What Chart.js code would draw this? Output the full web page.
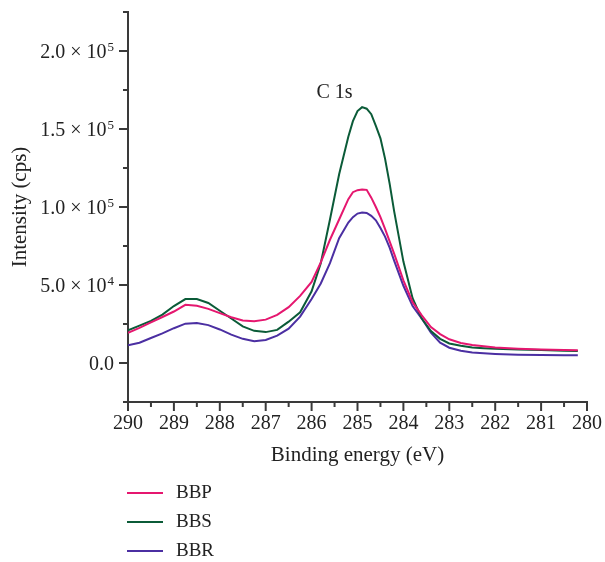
<!DOCTYPE html>
<html>
<head>
<meta charset="utf-8">
<title>C 1s</title>
<script src="https://cdn.jsdelivr.net/npm/chart.js@4/dist/chart.umd.min.js"></script>
<style>
  html, body { margin: 0; padding: 0; background: #fff; }
  #wrap { width: 605px; height: 562px; position: relative; }
</style>
</head>
<body>
<div id="wrap"><canvas id="xps"></canvas></div>
<script>
// binding energies (eV) and intensities (cps) for the C 1s region
const energies = [290, 289.75, 289.5, 289.25, 289, 288.75, 288.5, 288.25, 288, 287.75, 287.5, 287.25, 287,
  286.75, 286.5, 286.25, 286, 285.8, 285.6, 285.4, 285.2, 285.1, 285.0, 284.9, 284.8, 284.7, 284.6, 284.5,
  284.4, 284.3, 284.2, 284.1, 284.0, 283.8, 283.6, 283.4, 283.2, 283.0, 282.75, 282.5, 282.25, 282, 281.5,
  281, 280.5, 280.2];

const bbp = [19400, 22500, 26000, 29500, 33000, 37300, 36700, 34700, 32000, 29300, 27300, 26800, 27800,
  30800, 35800, 43000, 52000, 64500, 79000, 92000, 105000, 109500, 110800, 111200, 111000, 106000, 100000, 93500,
  86000, 78000, 70000, 61500, 53000, 39000, 30500, 23000, 18500, 15200, 12800, 11500, 10700, 10000, 9200,
  8700, 8300, 8100];

const bbs = [21000, 24000, 27000, 31000, 36500, 41000, 41000, 38500, 33500, 28500, 23500, 20600, 19800,
  21200, 26500, 32500, 46000, 64000, 92000, 121000, 145000, 155000, 161500, 164000, 163000, 159500, 152000, 144000,
  131000, 115000, 97000, 81000, 65000, 41500, 28500, 20500, 15500, 12500, 11000, 10000, 9500, 9100, 8600,
  8300, 7900, 7700];

const bbr = [11300, 13000, 16000, 19000, 22300, 25200, 25700, 24300, 21500, 18200, 15500, 14000, 14800,
  17500, 22000, 29700, 41000, 51000, 64000, 80000, 90000, 93500, 95800, 96500, 96200, 94300, 91500, 86500,
  81000, 74000, 65500, 57500, 49500, 36500, 28500, 19500, 13000, 9800, 7800, 6700, 6200, 5800, 5300,
  5100, 4900, 4900];

const seriesNames = ["BBP", "BBS", "BBR"];
const seriesColors = ["#e5176f", "#0b5b38", "#4b2fa2"];

// y tick labels: mantissa × 10^exponent
const yTickValues = [0, 50000, 100000, 150000, 200000];
const yTickMantissa = ["0.0", "5.0 × 10", "1.0 × 10", "1.5 × 10", "2.0 × 10"];
const yTickExponent = ["", "4", "5", "5", "5"];

const FONT = "'Liberation Serif', 'DejaVu Serif', serif";
const INK = "#222";
const AXIS = "#3a3a3a";

function toPoints(values) {
  return energies.map((e, i) => ({ x: e, y: values[i] }));
}

// minor/major ticks, superscript y labels, peak label and legend
const decorations = {
  id: "decorations",
  afterDraw(chart) {
    const ctx = chart.ctx;
    const xs = chart.scales.x;
    const ys = chart.scales.y;
    const area = chart.chartArea;
    ctx.save();
    ctx.strokeStyle = AXIS;
    ctx.lineWidth = 2;

    ys.ticks.forEach(t => {
      const py = ys.getPixelForValue(t.value);
      const len = t.value % 50000 === 0 ? 9 : 5;
      ctx.beginPath();
      ctx.moveTo(area.left, py);
      ctx.lineTo(area.left - len, py);
      ctx.stroke();
    });
    xs.ticks.forEach(t => {
      const px = xs.getPixelForValue(t.value);
      const len = Number.isInteger(t.value) ? 9 : 5;
      ctx.beginPath();
      ctx.moveTo(px, area.bottom);
      ctx.lineTo(px, area.bottom + len);
      ctx.stroke();
    });

    ctx.fillStyle = INK;
    ctx.textBaseline = "alphabetic";
    yTickValues.forEach((v, i) => {
      const py = ys.getPixelForValue(v) + 7;
      let right = area.left - 14;
      ctx.textAlign = "right";
      if (yTickExponent[i]) {
        ctx.font = "13px " + FONT;
        ctx.fillText(yTickExponent[i], right, py - 7);
        right -= ctx.measureText(yTickExponent[i]).width + 1;
      }
      ctx.font = "20px " + FONT;
      ctx.fillText(yTickMantissa[i], right, py);
    });

    ctx.font = "20px " + FONT;
    ctx.textAlign = "center";
    ctx.textBaseline = "middle";
    ctx.fillText("C 1s", xs.getPixelForValue(285.5), ys.getPixelForValue(173000));

    ctx.font = "19px " + FONT;
    ctx.textAlign = "left";
    chart.data.datasets.forEach((ds, i) => {
      const rowY = 493 + i * 29;
      ctx.strokeStyle = ds.borderColor;
      ctx.lineWidth = 2;
      ctx.beginPath();
      ctx.moveTo(127, rowY);
      ctx.lineTo(163, rowY);
      ctx.stroke();
      ctx.fillStyle = INK;
      ctx.fillText(ds.label, 176, rowY);
    });
    ctx.restore();
  }
};

new Chart(document.getElementById("xps"), {
  type: "scatter",
  data: {
    datasets: [bbp, bbs, bbr].map((vals, i) => ({
      label: seriesNames[i],
      data: toPoints(vals),
      showLine: true,
      borderColor: seriesColors[i],
      backgroundColor: seriesColors[i],
      borderWidth: 2,
      pointRadius: 0,
      tension: 0
    }))
  },
  options: {
    responsive: true,
    maintainAspectRatio: false,
    animation: false,
    layout: { padding: { top: 12, right: 18, left: 0, bottom: 0 } },
    plugins: { legend: { display: false }, tooltip: { enabled: false } },
    scales: {
      x: {
        type: "linear",
        reverse: true,
        min: 280,
        max: 290,
        grid: { display: false, drawTicks: false },
        border: { display: true, color: AXIS, width: 2 },
        ticks: {
          stepSize: 0.5,
          padding: 10,
          color: INK,
          font: { family: FONT, size: 20 },
          maxRotation: 0,
          autoSkip: false,
          callback: v => Number.isInteger(v) ? String(v) : ""
        },
        title: {
          display: true,
          text: "Binding energy (eV)",
          color: INK,
          font: { family: FONT, size: 21 },
          padding: { top: 0, bottom: 94 }
        },
        afterFit(scale) {
          scale.height = 160;
          scale.paddingLeft = 0;
          scale.paddingRight = 0;
        }
      },
      y: {
        min: -25000,
        max: 225000,
        grid: { display: false, drawTicks: false },
        border: { display: true, color: AXIS, width: 2 },
        ticks: { stepSize: 25000, display: false },
        title: {
          display: true,
          text: "Intensity (cps)",
          color: INK,
          font: { family: FONT, size: 21 },
          padding: { top: 8, bottom: 0 }
        },
        afterFit(scale) { scale.width = 128; }
      }
    }
  },
  plugins: [decorations]
});
</script>
</body>
</html>
